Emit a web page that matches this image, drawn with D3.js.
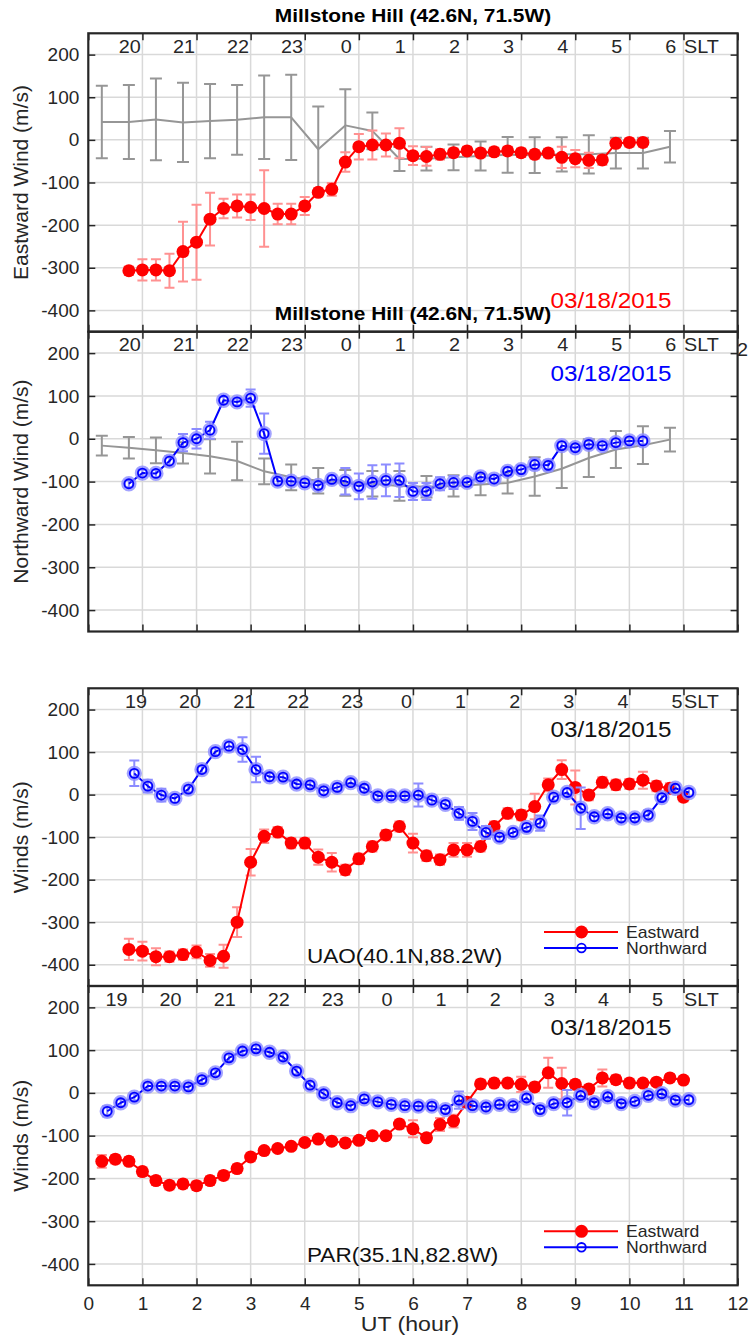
<!DOCTYPE html>
<html>
<head>
<meta charset="utf-8">
<script src="https://cdn.jsdelivr.net/npm/d3@7"></script>
<style>
  body { margin: 0; background: #fff; }
  text { font-family: "Liberation Sans", Arial, Helvetica, sans-serif; fill: #262626; }
</style>
</head>
<body>
<svg id="chart" width="750" height="1337"></svg>
<script>
// ---- data ----
const utTicks = [0, 1, 2, 3, 4, 5, 6, 7, 8, 9, 10, 11, 12];
const windTicks = [-400, -300, -200, -100, 0, 100, 200];

// Millstone Hill, 42.6N 71.5W
const millLon = 71.5;
const millSlt = [20, 21, 22, 23, 0, 1, 2, 3, 4, 5, 6];
const millT = [0.75, 1, 1.25, 1.5, 1.75, 2, 2.25, 2.5, 2.75, 3, 3.25, 3.5, 3.75, 4, 4.25, 4.5, 4.75, 5, 5.25, 5.5,
  5.75, 6, 6.25, 6.5, 6.75, 7, 7.25, 7.5, 7.75, 8, 8.25, 8.5, 8.75, 9, 9.25, 9.5, 9.75, 10, 10.25];
const millEast = [-307, -305, -305, -307, -262, -240, -186, -161, -155, -158, -161, -174, -174, -155, -123, -116, -52, -16, -12, -12,
  -8, -37, -39, -34, -30, -26, -31, -28, -26, -30, -34, -31, -41, -44, -48, -47, -8, -6, -6];
const millEastErr = [10, 25, 25, 40, 70, 88, 62, 23, 27, 30, 90, 24, 24, 21, 10, 15, 23, 30, 34, 27,
  35, 22, 22, 12, 10, 10, 10, 10, 10, 10, 10, 10, 25, 20, 18, 12, 10, 10, 10];
const millNorth = [-105, -80, -81, -52, -9, 0, 20, 90, 86, 95, 12, -99, -99, -103, -109, -95, -99, -111, -101, -97,
  -97, -123, -123, -105, -102, -102, -89, -94, -76, -72, -60, -62, -16, -21, -13, -16, -9, -5, -5];
const millNorthErr = [8, 8, 8, 12, 20, 23, 20, 8, 8, 20, 47, 8, 8, 8, 8, 10, 31, 30, 39, 37,
  39, 20, 20, 15, 15, 10, 10, 10, 10, 10, 12, 12, 8, 8, 8, 8, 8, 8, 8];

// model (gray) curves for Millstone Hill
const modelT = [0.25, 0.75, 1.25, 1.75, 2.25, 2.75, 3.25, 3.75, 4.25, 4.75, 5.25, 5.75, 6.25, 6.75, 7.25, 7.75, 8.25, 8.75, 9.25, 9.75, 10.25, 10.75];
const modelEast = [42, 42, 48, 41, 44, 47, 53, 53, -22, 34, 21, -45, -44, -41, -38, -35, -36, -34, -34, -31, -31, -16];
const modelEastErr = [85, 87, 96, 93, 87, 82, 98, 100, 100, 85, 43, 28, 28, 30, 34, 42, 42, 40, 45, 36, 36, 37];
const modelNorth = [-16, -21, -27, -33, -41, -52, -76, -90, -98, -103, -105, -110, -112, -110, -107, -103, -88, -70, -45, -25, -15, -2];
const modelNorthErr = [23, 25, 30, 25, 40, 45, 30, 30, 30, 30, 30, 35, 25, 25, 25, 25, 45, 45, 44, 43, 44, 28];

// UAO, 40.1N 88.2W
const uaoLon = 88.2;
const uaoSlt = [19, 20, 21, 22, 23, 0, 1, 2, 3, 4, 5];
const uaoEastT = [0.75, 1, 1.25, 1.5, 1.75, 2, 2.25, 2.5, 2.75, 3, 3.25, 3.5, 3.75, 4, 4.25, 4.5, 4.75, 5, 5.25, 5.5, 5.75,
  6, 6.25, 6.5, 6.75, 7, 7.25, 7.5, 7.75, 8, 8.25, 8.5, 8.75, 9, 9.25, 9.5, 9.75, 10, 10.25, 10.5, 10.75, 11];
const uaoEast = [-364, -368, -381, -381, -376, -370, -390, -380, -300, -159, -98, -88, -114, -114, -147, -159, -177, -151, -122, -95, -75,
  -114, -144, -153, -130, -130, -122, -75, -44, -48, -28, 23, 59, 17, -1, 29, 23, 25, 34, 20, 15, -6];
const uaoEastErr = [25, 22, 20, 12, 12, 15, 15, 27, 35, 31, 16, 12, 12, 12, 18, 22, 12, 12, 12, 12, 12,
  22, 12, 12, 16, 16, 12, 12, 12, 12, 30, 15, 22, 40, 12, 12, 12, 12, 20, 12, 12, 10];
const uaoNorthT = [0.85, 1.1, 1.35, 1.6, 1.85, 2.1, 2.35, 2.6, 2.85, 3.1, 3.35, 3.6, 3.85, 4.1, 4.35, 4.6, 4.85, 5.1, 5.35, 5.6, 5.85,
  6.1, 6.35, 6.6, 6.85, 7.1, 7.35, 7.6, 7.85, 8.1, 8.35, 8.6, 8.85, 9.1, 9.35, 9.6, 9.85, 10.1, 10.35, 10.6, 10.85, 11.1];
const uaoNorth = [50, 20, -1, -9, 13, 59, 101, 114, 106, 59, 42, 41, 25, 23, 9, 17, 28, 15, -3, -3, -3,
  -1, -13, -23, -44, -63, -89, -100, -89, -77, -67, -6, 5, -32, -52, -45, -55, -55, -48, -7, 15, 5];
const uaoNorthErr = [30, 15, 15, 10, 8, 8, 8, 12, 29, 30, 10, 8, 8, 8, 12, 8, 8, 8, 8, 8, 8,
  27, 8, 8, 15, 20, 15, 10, 10, 10, 18, 8, 10, 49, 10, 8, 8, 8, 12, 8, 10, 8];

// PAR, 35.1N 82.8W
const parLon = 82.8;
const parSlt = [19, 20, 21, 22, 23, 0, 1, 2, 3, 4, 5];
const parEastT = [0.25, 0.5, 0.75, 1, 1.25, 1.5, 1.75, 2, 2.25, 2.5, 2.75, 3, 3.25, 3.5, 3.75, 4, 4.25, 4.5, 4.75, 5, 5.25, 5.5,
  5.75, 6, 6.25, 6.5, 6.75, 7, 7.25, 7.5, 7.75, 8, 8.25, 8.5, 8.75, 9, 9.25, 9.5, 9.75, 10, 10.25, 10.5, 10.75, 11];
const parEast = [-160, -155, -160, -184, -205, -216, -213, -217, -205, -193, -177, -150, -135, -130, -125, -116, -108, -113, -117, -111, -100, -100,
  -73, -84, -105, -74, -66, -22, 21, 23, 23, 20, 14, 47, 22, 20, 9, 35, 31, 23, 23, 25, 35, 30];
const parEastErr = [15, 10, 10, 10, 10, 10, 10, 10, 10, 10, 10, 10, 8, 8, 8, 8, 8, 8, 8, 8, 8, 8,
  10, 20, 8, 15, 15, 10, 10, 10, 10, 18, 10, 35, 37, 10, 10, 20, 10, 10, 8, 8, 8, 8];
const parNorthT = [0.35, 0.6, 0.85, 1.1, 1.35, 1.6, 1.85, 2.1, 2.35, 2.6, 2.85, 3.1, 3.35, 3.6, 3.85, 4.1, 4.35, 4.6, 4.85, 5.1, 5.35, 5.6,
  5.85, 6.1, 6.35, 6.6, 6.85, 7.1, 7.35, 7.6, 7.85, 8.1, 8.35, 8.6, 8.85, 9.1, 9.35, 9.6, 9.85, 10.1, 10.35, 10.6, 10.85, 11.1];
const parNorth = [-43, -23, -10, 16, 16, 16, 14, 31, 47, 82, 98, 103, 95, 84, 51, 18, -2, -23, -30, -14, -21, -27,
  -30, -31, -31, -39, -17, -30, -33, -27, -30, -12, -39, -25, -23, -6, -23, -9, -25, -20, -6, -2, -17, -16];
const parNorthErr = [12, 8, 8, 8, 8, 8, 8, 8, 8, 8, 8, 8, 8, 8, 8, 8, 8, 8, 8, 8, 8, 8,
  8, 8, 8, 8, 20, 8, 8, 8, 8, 8, 8, 8, 30, 8, 8, 8, 8, 8, 8, 8, 8, 8];

const dateLabel = "03/18/2015";

// ---- drawing ----
const SX = 1.1;   // text in the source looks a bit wide
const svg = d3.select("#chart");
const x = d3.scaleLinear().domain([0, 12]).range([88.3, 737.6]);

const RED = "rgb(255,0,0)", RED_LT = "rgb(255,145,145)";
const BLUE = "rgb(0,0,255)", BLUE_LT = "rgb(140,140,255)";
const GRAY = "rgb(150,150,150)";

function txt(g, px, py, s, size, opt) {
  opt = opt || {};
  return g.append("text")
    .attr("transform", "translate(" + px + "," + py + ") scale(" + SX + ",1)")
    .attr("text-anchor", opt.anchor || "middle")
    .attr("font-size", size + "px")
    .attr("font-weight", opt.bold ? "bold" : "normal")
    .style("fill", opt.color || "#262626")
    .text(s);
}

function makePanel(top, bottom, yLabel, showX) {
  const y = d3.scaleLinear().domain([-450, 250]).range([bottom, top]);
  const g = svg.append("g");

  // grid
  g.append("g").selectAll("line").data(utTicks.filter(d => d > 0 && d < 12)).enter().append("line")
    .attr("x1", d => x(d)).attr("x2", d => x(d)).attr("y1", top).attr("y2", bottom)
    .attr("stroke", "#d9d9d9").attr("stroke-width", 1.5);
  g.append("g").selectAll("line").data(windTicks).enter().append("line")
    .attr("x1", x(0)).attr("x2", x(12)).attr("y1", d => y(d)).attr("y2", d => y(d))
    .attr("stroke", "#d9d9d9").attr("stroke-width", 1.5);

  // axes, ticks pointing inward
  const left = g.append("g").attr("transform", "translate(" + x(0) + ",0)")
    .call(d3.axisLeft(y).tickValues(windTicks).tickSize(-7).tickPadding(9).tickFormat(d => String(d)));
  const right = g.append("g").attr("transform", "translate(" + x(12) + ",0)")
    .call(d3.axisRight(y).tickValues(windTicks).tickSize(-7).tickFormat(""));
  const topAx = g.append("g").attr("transform", "translate(0," + top + ")")
    .call(d3.axisTop(x).tickValues(utTicks).tickSize(-7).tickFormat(""));
  const bottomAx = g.append("g").attr("transform", "translate(0," + bottom + ")")
    .call(d3.axisBottom(x).tickValues(utTicks).tickSize(-7).tickPadding(11)
      .tickFormat(showX ? (d => String(d)) : ""));
  [left, right, topAx, bottomAx].forEach(a => {
    a.select(".domain").remove();
    a.selectAll("line").attr("stroke", "#262626").attr("stroke-width", 1.5);
    a.selectAll("text").attr("font-size", "19px").style("fill", "#262626")
      .attr("font-family", "Liberation Sans, Arial, sans-serif");
  });

  g.append("rect").attr("x", x(0)).attr("y", top).attr("width", x(12) - x(0)).attr("height", bottom - top)
    .attr("fill", "none").attr("stroke", "#262626").attr("stroke-width", 2.2);

  g.append("text")
    .attr("transform", "translate(27.5," + ((top + bottom) / 2) + ") rotate(-90)")
    .attr("text-anchor", "middle").attr("font-size", "21px").text(yLabel);

  return { g: g, y: y, top: top, bottom: bottom };
}

function sltLabels(p, hours, lon) {
  hours.forEach(h => {
    const ut = (h + lon / 15) % 24;
    txt(p.g, x(ut), p.top + 19.5, String(h), 18);
  });
  txt(p.g, 684, p.top + 19.5, "SLT", 18, { anchor: "start" });
}

function errorBars(p, t, v, e, color, cap) {
  const d = t.map((tt, i) => ({ t: tt, v: v[i], e: e[i] }));
  p.g.append("g").attr("fill", "none").attr("stroke", color).attr("stroke-width", 2)
    .selectAll("path").data(d).enter().append("path")
    .attr("d", k => {
      const xx = x(k.t), y1 = p.y(k.v + k.e), y2 = p.y(k.v - k.e);
      return "M" + xx + "," + y1 + "V" + y2 +
        "M" + (xx - cap) + "," + y1 + "H" + (xx + cap) +
        "M" + (xx - cap) + "," + y2 + "H" + (xx + cap);
    });
}

function lineOf(p, t, v, color) {
  const line = d3.line().x((d, i) => x(t[i])).y(d => p.y(d));
  p.g.append("path").datum(v).attr("d", line)
    .attr("fill", "none").attr("stroke", color).attr("stroke-width", 2).attr("stroke-linejoin", "round");
}

function modelSeries(p, t, v, e) {
  errorBars(p, t, v, e, GRAY, 6);
  lineOf(p, t, v, GRAY);
}

function eastSeries(p, t, v, e) {
  errorBars(p, t, v, e, RED_LT, 5);
  lineOf(p, t, v, RED);
  p.g.append("g").selectAll("circle").data(v).enter().append("circle")
    .attr("cx", (d, i) => x(t[i])).attr("cy", d => p.y(d)).attr("r", 6.5).attr("fill", RED);
}

function blueMarker(g, cx, cy) {
  g.append("circle").attr("cx", cx).attr("cy", cy).attr("r", 5.4)
    .attr("fill", "none").attr("stroke", BLUE_LT).attr("stroke-width", 4.5).attr("stroke-opacity", 0.8);
  g.append("circle").attr("cx", cx).attr("cy", cy).attr("r", 4.5)
    .attr("fill", "none").attr("stroke", BLUE).attr("stroke-width", 1.8);
}

function northSeries(p, t, v, e) {
  errorBars(p, t, v, e, BLUE_LT, 5);
  lineOf(p, t, v, BLUE);
  const mg = p.g.append("g");
  v.forEach((d, i) => blueMarker(mg, x(t[i]), p.y(d)));
}

function legend(p) {
  const g = p.g.append("g");
  const yE = p.bottom - 54, yN = p.bottom - 38;
  g.append("line").attr("x1", 544).attr("x2", 618).attr("y1", yE).attr("y2", yE).attr("stroke", RED).attr("stroke-width", 2);
  g.append("circle").attr("cx", 581.5).attr("cy", yE).attr("r", 6.5).attr("fill", RED);
  g.append("line").attr("x1", 544).attr("x2", 618).attr("y1", yN).attr("y2", yN).attr("stroke", BLUE).attr("stroke-width", 2);
  g.append("circle").attr("cx", 581.5).attr("cy", yN).attr("r", 4.3).attr("fill", "none").attr("stroke", BLUE).attr("stroke-width", 1.8);
  txt(g, 626, yE + 5.8, "Eastward", 16, { anchor: "start" });
  txt(g, 626, yN + 5.8, "Northward", 16, { anchor: "start" });
}

// panel 1: Millstone Hill eastward
const p1 = makePanel(33.3, 331.7, "Eastward Wind (m/s)", false);
// panel 2: Millstone Hill northward
const p2 = makePanel(331.7, 631.5, "Northward Wind (m/s)", false);
// panel 3: UAO
const p3 = makePanel(688.3, 986, "Winds (m/s)", false);
// panel 4: PAR
const p4 = makePanel(986, 1285.3, "Winds (m/s)", true);

modelSeries(p1, modelT, modelEast, modelEastErr);
eastSeries(p1, millT, millEast, millEastErr);
sltLabels(p1, millSlt, millLon);
txt(p1.g, 413, 21.5, "Millstone Hill (42.6N, 71.5W)", 19, { bold: true, color: "#000" });
txt(p1.g, 611, 308, dateLabel, 22, { color: RED });

modelSeries(p2, modelT, modelNorth, modelNorthErr);
northSeries(p2, millT, millNorth, millNorthErr);
sltLabels(p2, millSlt, millLon);
txt(p2.g, 413, 320, "Millstone Hill (42.6N, 71.5W)", 19, { bold: true, color: "#000" });
txt(p2.g, 611, p2.top + 49, dateLabel, 22, { color: BLUE });
txt(p2.g, 737, 356, "2", 18, { anchor: "start" });

eastSeries(p3, uaoEastT, uaoEast, uaoEastErr);
northSeries(p3, uaoNorthT, uaoNorth, uaoNorthErr);
sltLabels(p3, uaoSlt, uaoLon);
txt(p3.g, 611, p3.top + 49, dateLabel, 22, { color: "#111" });
txt(p3.g, 307, p3.bottom - 23.5, "UAO(40.1N,88.2W)", 20.5, { anchor: "start", color: "#111" });
legend(p3);

eastSeries(p4, parEastT, parEast, parEastErr);
northSeries(p4, parNorthT, parNorth, parNorthErr);
sltLabels(p4, parSlt, parLon);
txt(p4.g, 611, p4.top + 49, dateLabel, 22, { color: "#111" });
txt(p4.g, 307, p4.bottom - 23.5, "PAR(35.1N,82.8W)", 20.5, { anchor: "start", color: "#111" });
legend(p4);

txt(svg, 410, 1331, "UT (hour)", 21);
</script>
</body>
</html>
